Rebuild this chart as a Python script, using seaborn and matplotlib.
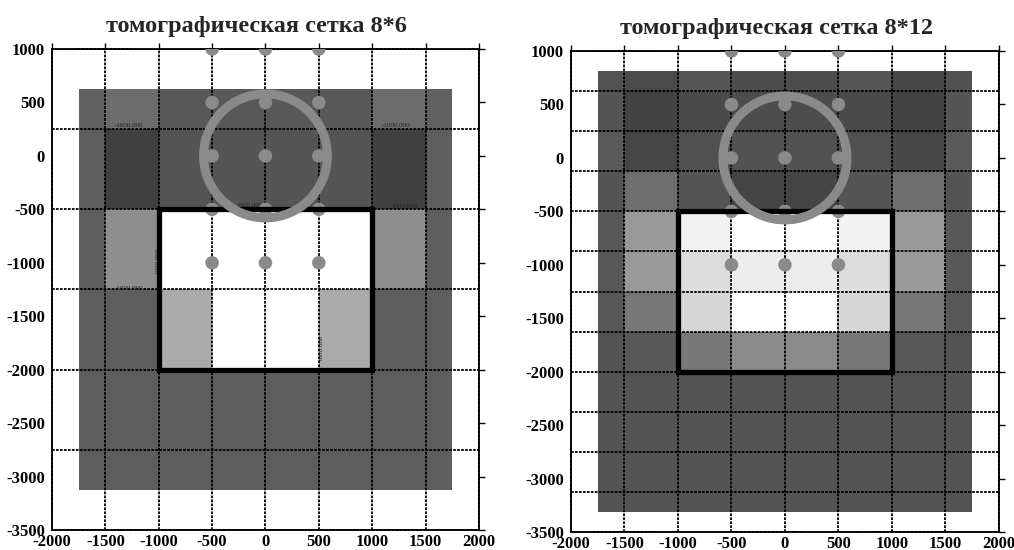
"""
Томографические сетки 8*6 и 8*12: распределение по ячейкам,
источники, окружность и контур объекта.
"""

import numpy as np
import pandas as pd
import matplotlib
matplotlib.use("Agg")
import matplotlib.pyplot as plt
from matplotlib.patches import Circle, Rectangle
import seaborn as sns

# Границы ячеек по X (общие для обеих сеток)
x_edges = [-1750, -1500, -1000, -500, 0, 500, 1000, 1500, 1750]

# Границы ячеек по глубине
y_edges_6 = [625, 250, -500, -1250, -2000, -2750, -3125]
y_edges_12 = [812.5, 625, 250, -125, -500, -875, -1250, -1625, -2000,
              -2375, -2750, -3125, -3312.5]

# Линии томографической сетки
x_grid = [-2000, -1500, -1000, -500, 0, 500, 1000, 1500, 2000]
y_grid_6 = [1000, 250, -500, -1250, -2000, -2750, -3500]
y_grid_12 = [1000, 625, 250, -125, -500, -875, -1250, -1625, -2000,
             -2375, -2750, -3125, -3500]

# Уровни серого в ячейках (0 - черный, 255 - белый)
shade_6 = [
    [96, 108, 88, 88, 88, 88, 108, 96],
    [94, 64, 85, 85, 85, 85, 64, 94],
    [94, 142, 255, 255, 255, 255, 142, 94],
    [94, 94, 170, 255, 255, 170, 94, 94],
    [94, 94, 94, 94, 94, 94, 94, 94],
    [94, 94, 94, 94, 94, 94, 94, 94],
]
shade_12 = [
    [82, 75, 86, 78, 78, 86, 72, 81],
    [85, 67, 74, 77, 77, 74, 67, 85],
    [90, 70, 80, 81, 81, 80, 70, 90],
    [85, 110, 85, 69, 69, 85, 110, 85],
    [88, 153, 242, 255, 255, 242, 153, 88],
    [88, 153, 220, 236, 236, 220, 153, 88],
    [88, 119, 214, 255, 255, 214, 119, 88],
    [83, 88, 120, 138, 138, 120, 88, 83],
    [83, 83, 83, 83, 83, 83, 83, 83],
    [83, 83, 83, 83, 83, 83, 83, 83],
    [83, 83, 83, 83, 83, 83, 83, 83],
    [83, 83, 83, 83, 83, 83, 83, 83],
]

# Точки наблюдения
src_x = [-500, 0, 500]
src_y = [1000, 500, 0, -500, -1000]
puntos = pd.DataFrame([(x, y) for y in src_y for x in src_x], columns=["x", "y"])

# Окружность и прямоугольный объект
circle_r = 580
box_x = [-1000, 1000]
box_y = [-2000, -500]

# Подписи изолиний (только на первой сетке)
iso_text = ["-1000.000", "-1000.000", "1000.000", "1000.000", "-1000.000", "1000.000", "1000.000"]
iso_x = [-1275, 1220, -150, 1300, -1280, 520, -1010]
iso_y = [265, 265, -485, -500, -1265, -1800, -980]
iso_rot = [0, 0, 0, 0, 0, 90, 90]

titles = ["томографическая сетка 8*6", "томографическая сетка 8*12"]
x_ticks = [-2000, -1500, -1000, -500, 0, 500, 1000, 1500, 2000]
y_ticks = [1000, 500, 0, -500, -1000, -1500, -2000, -2500, -3000, -3500]

sns.set_theme(style="white")
plt.rcParams["font.family"] = ["Liberation Serif", "DejaVu Serif"]
plt.rcParams["font.weight"] = "bold"

fig = plt.figure(figsize=(10.14, 5.5), dpi=100)
ax1 = fig.add_axes([0.0513, 0.0364, 0.421, 0.8745])
ax2 = fig.add_axes([0.5631, 0.0327, 0.422, 0.8745])

paneles = [
    (ax1, y_edges_6, y_grid_6, shade_6, titles[0]),
    (ax2, y_edges_12, y_grid_12, shade_12, titles[1]),
]

for ax, y_edges, y_grid, shade, titulo in paneles:
    ax.pcolormesh(x_edges, y_edges, np.array(shade), cmap="gray",
                  vmin=0, vmax=255, shading="flat", zorder=1)

    # Сетка пунктиром
    for gx in x_grid:
        ax.axvline(gx, color="black", lw=1.3, ls=(0, (1.5, 0.7)), zorder=3)
    for gy in y_grid:
        ax.axhline(gy, color="black", lw=1.3, ls=(0, (1.5, 0.7)), zorder=3)

    sns.scatterplot(data=puntos, x="x", y="y", ax=ax, color="#8a8a8a",
                    s=95, edgecolor="none", zorder=4, legend=False)

    ax.add_patch(Rectangle((box_x[0], box_y[0]), box_x[1] - box_x[0],
                           box_y[1] - box_y[0], fill=False, ec="black",
                           lw=3.8, zorder=5))
    ax.add_patch(Circle((0, 0), circle_r, fill=False, ec="#8a8a8a",
                        lw=6.5, zorder=6))

    ax.set_xlim(-2000, 2000)
    ax.set_ylim(-3500, 1000)
    ax.set_xticks(x_ticks)
    ax.set_yticks(y_ticks)
    ax.set_xticklabels([str(t) for t in x_ticks])
    ax.set_yticklabels([str(t) for t in y_ticks])
    ax.set_xlabel("")
    ax.set_ylabel("")
    ax.tick_params(direction="out", length=4, width=1, color="black",
                   top=True, right=True, labelsize=12, labelcolor="black")
    ax.tick_params(axis="y", pad=1)
    ax.tick_params(axis="x", pad=-1)
    for lab in ax.get_xticklabels() + ax.get_yticklabels():
        lab.set_fontweight("bold")
    for sp in ax.spines.values():
        sp.set_color("black")
        sp.set_linewidth(1.3)
        sp.set_linestyle((0, (1.5, 0.7)))
    ax.set_title(titulo, fontsize=17.5, fontweight="bold", x=0.48, pad=12)

for txt, tx, ty, rot in zip(iso_text, iso_x, iso_y, iso_rot):
    ax1.text(tx, ty, txt, fontsize=5, color="#222222", ha="center",
             va="bottom" if rot == 0 else "center", rotation=rot,
             fontweight="normal", zorder=3.5)

plt.savefig("out.png", dpi=100)
